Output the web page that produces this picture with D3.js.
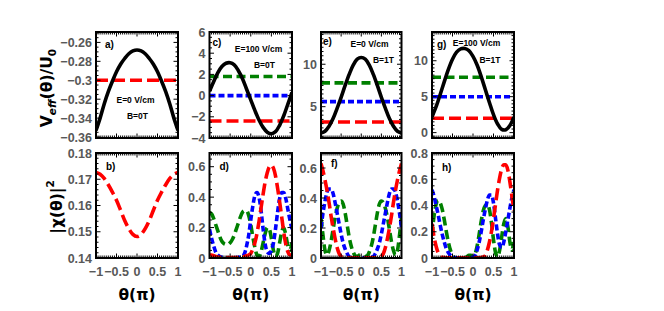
<!DOCTYPE html>
<html lang="en">
<head>
<meta charset="UTF-8">
<title>Effective potential and probability density</title>
<script src="https://cdn.jsdelivr.net/npm/d3@7"></script>
<style>
  body { margin: 0; background: #fff; }
  .tlab { font-family: "Liberation Sans", Arial, sans-serif; font-weight: bold; font-size: 12.5px; fill: #585858; }
  .ann { font-family: "Liberation Sans", Arial, sans-serif; font-weight: bold; font-size: 8.5px; fill: #000; }
  .plab { font-family: "Liberation Sans", Arial, sans-serif; font-weight: bold; font-size: 10px; fill: #000; }
  .axt { font-family: "DejaVu Sans", sans-serif; font-weight: bold; font-size: 15.5px; fill: #000; }
</style>
</head>
<body>
<script>
// theta grids (units of pi)
var th21 = [-1,-0.9,-0.8,-0.7,-0.6,-0.5,-0.4,-0.3,-0.2,-0.1,0,0.1,0.2,0.3,0.4,0.5,0.6,0.7,0.8,0.9,1];
var th41 = [-1,-0.95,-0.9,-0.85,-0.8,-0.75,-0.7,-0.65,-0.6,-0.55,-0.5,-0.45,-0.4,-0.35,-0.3,-0.25,-0.2,-0.15,-0.1,-0.05,
            0,0.05,0.1,0.15,0.2,0.25,0.3,0.35,0.4,0.45,0.5,0.55,0.6,0.65,0.7,0.75,0.8,0.85,0.9,0.95,1];

// top row: V_eff / U0
var aBlack = [-0.353,-0.340,-0.325,-0.312,-0.301,-0.291,-0.283,-0.277,-0.272,-0.269,-0.268,-0.269,-0.272,-0.277,-0.283,-0.291,-0.301,-0.312,-0.325,-0.340,-0.353];
var aLevels = {red: -0.3};
var cBlack = [0.4,1.3,2.15,2.75,3.05,3.1,2.9,2.35,1.6,0.6,-0.4,-1.4,-2.3,-3.0,-3.45,-3.6,-3.4,-2.8,-1.9,-0.8,0.3];
var cLevels = {green: 1.8, blue: 0, red: -2.4};
var eBlack = [1.9,2.1,2.7,3.6,4.8,6.1,7.5,8.8,9.9,10.6,10.8,10.6,9.9,8.8,7.5,6.1,4.8,3.6,2.7,2.1,1.9];
var eLevels = {green: 7.8, blue: 5.6, red: 3.2};
var gBlack = [2.2,3.6,5.3,7.1,8.8,10.2,11.2,11.65,11.7,11.4,10.6,9.4,7.8,6.0,4.2,2.5,1.2,0.45,0.4,1.0,2.2];
var gLevels = {green: 7.7, blue: 5.0, red: 2.0};

// bottom row: |chi|^2
var bRed = [0.1726,0.1719,0.1703,0.1679,0.1651,0.1620,0.1582,0.1543,0.1512,0.1490,0.1482,0.1490,0.1512,0.1543,0.1582,0.1620,0.1651,0.1679,0.1703,0.1719,0.1726];

var dRed = [0.02,0.02,0.015,0.01,0.006,0.004,0.003,0.003,0.003,0.003,0.003,0.003,0.003,0.003,0.003,0.004,0.006,0.01,0.015,0.02,
            0.03,0.06,0.1,0.16,0.24,0.33,0.42,0.5,0.56,0.6,0.61,0.59,0.54,0.46,0.37,0.27,0.17,0.09,0.04,0.02,0.02];
var dBlue = [0.19,0.13,0.08,0.04,0.02,0.01,0.005,0.003,0.002,0.002,0.002,0.002,0.002,0.003,0.004,0.006,0.01,0.03,0.08,0.15,
             0.25,0.34,0.41,0.43,0.4,0.31,0.19,0.09,0.04,0.03,0.05,0.1,0.19,0.3,0.39,0.43,0.43,0.39,0.32,0.25,0.19];
var dGreen = [0.30,0.29,0.26,0.22,0.18,0.14,0.11,0.095,0.09,0.09,0.1,0.12,0.15,0.19,0.23,0.27,0.3,0.31,0.31,0.28,
              0.22,0.14,0.07,0.02,0.01,0.04,0.1,0.16,0.2,0.19,0.13,0.05,0.01,0.03,0.1,0.17,0.2,0.15,0.08,0.05,0.1];

var fRed = [0.63,0.58,0.52,0.45,0.37,0.28,0.2,0.13,0.07,0.03,0.01,0.003,0.002,0.002,0.002,0.002,0.002,0.002,0.002,0.002,
            0.002,0.002,0.002,0.002,0.002,0.002,0.002,0.002,0.002,0.003,0.01,0.03,0.07,0.13,0.2,0.28,0.37,0.45,0.52,0.58,0.63];
var fBlue = [0.2,0.3,0.38,0.44,0.46,0.46,0.43,0.37,0.3,0.23,0.16,0.1,0.06,0.03,0.01,0.004,0.002,0.002,0.002,0.002,
             0.002,0.002,0.002,0.002,0.002,0.004,0.01,0.03,0.06,0.1,0.16,0.23,0.3,0.37,0.43,0.46,0.46,0.44,0.38,0.3,0.2];
var fGreen = [0.27,0.15,0.05,0.02,0.05,0.11,0.19,0.27,0.33,0.37,0.38,0.36,0.3,0.22,0.14,0.08,0.04,0.015,0.01,0.02,
              0.025,0.02,0.01,0.015,0.04,0.08,0.14,0.22,0.3,0.36,0.38,0.37,0.33,0.27,0.19,0.11,0.05,0.02,0.05,0.15,0.27];

var hRed = [0.26,0.16,0.09,0.04,0.015,0.005,0.003,0.002,0.002,0.002,0.002,0.002,0.002,0.002,0.002,0.002,0.002,0.002,0.002,0.002,
            0.002,0.002,0.002,0.002,0.003,0.008,0.02,0.06,0.12,0.2,0.3,0.41,0.52,0.61,0.68,0.71,0.71,0.67,0.58,0.47,0.36];
var hBlue = [0.52,0.47,0.4,0.33,0.25,0.18,0.12,0.07,0.04,0.02,0.006,0.003,0.002,0.002,0.002,0.002,0.002,0.002,0.002,0.003,
             0.006,0.02,0.06,0.12,0.2,0.29,0.37,0.44,0.48,0.48,0.42,0.3,0.18,0.1,0.08,0.12,0.2,0.29,0.38,0.46,0.52];
var hGreen = [0.17,0.32,0.41,0.44,0.42,0.37,0.29,0.2,0.12,0.06,0.02,0.005,0.002,0.002,0.002,0.002,0.002,0.01,0.02,0.02,
              0.01,0.03,0.09,0.18,0.28,0.36,0.4,0.41,0.37,0.27,0.14,0.04,0.01,0.06,0.16,0.26,0.3,0.24,0.12,0.06,0.15];

// tick values and labels
var xTicks = [-1,-0.5,0,0.5,1];
var xTickLabels = ["\u22121","\u22120.5","0","0.5","1"];
var aTicks = [-0.36,-0.34,-0.32,-0.3,-0.28,-0.26];
var aTickLabels = ["\u22120.36","\u22120.34","\u22120.32","\u22120.3","\u22120.28","\u22120.26"];
var cTicks = [-4,-2,0,2,4,6];
var cTickLabels = ["\u22124","\u22122","0","2","4","6"];
var eTicks = [5,10];
var eTickLabels = ["5","10"];
var gTicks = [0,5,10];
var gTickLabels = ["0","5","10"];
var bTicks = [0.14,0.15,0.16,0.17,0.18];
var bTickLabels = ["0.14","0.15","0.16","0.17","0.18"];
var dTicks = [0,0.2,0.4,0.6];
var dTickLabels = ["0","0.2","0.4","0.6"];
var hTicks = [0,0.2,0.4,0.6,0.8];
var hTickLabels = ["0","0.2","0.4","0.6","0.8"];

var w = 664, h = 311;
var colors = {red: "#ff0000", blue: "#0000ff", green: "#008000", black: "#000"};
var dashes = {red: "12,5", blue: "6,3", green: "9,4.5", black: null};

var cols = [[96,178],[209.5,292],[321,401.5],[432,514]];
var rows = [[32,138],[153,258]];

var panels = [
  {lab:"a)", c:0, r:0, dom:[-0.361,-0.249], ticks:aTicks, tl:aTickLabels, minor:0.005,
   curves:[{x:th21, y:aBlack, k:"black"}], levels:aLevels, labPos:[9,16],
   notes:[["E=0 V/cm",39.5,71],["B=0T",41.5,87]]},
  {lab:"c)", c:1, r:0, dom:[-4,6], ticks:cTicks, tl:cTickLabels, minor:0.5,
   curves:[{x:th21, y:cBlack, k:"black"}], levels:cLevels, labPos:[3,14],
   notes:[["E=100 V/cm",49,20],["B=0T",55,36]]},
  {lab:"e)", c:2, r:0, dom:[1.31,13.8], ticks:eTicks, tl:eTickLabels, minor:0.5,
   curves:[{x:th21, y:eBlack, k:"black"}], levels:eLevels, labPos:[2,13],
   notes:[["E=0 V/cm",48.5,15],["B=1T",62.5,31]]},
  {lab:"g)", c:3, r:0, dom:[-0.75,14], ticks:gTicks, tl:gTickLabels, minor:0.5,
   curves:[{x:th21, y:gBlack, k:"black"}], levels:gLevels, labPos:[5,16],
   notes:[["E=100 V/cm",44.5,14],["B=1T",58,31]]},
  {lab:"b)", c:0, r:1, dom:[0.14,0.18], ticks:bTicks, tl:bTickLabels, minor:0.002,
   curves:[{x:th21, y:bRed, k:"red"}], levels:{}, labPos:[10,17], notes:[]},
  {lab:"d)", c:1, r:1, dom:[0,0.69], ticks:dTicks, tl:dTickLabels, minor:0.05,
   curves:[{x:th41, y:dGreen, k:"green"},{x:th41, y:dBlue, k:"blue"},{x:th41, y:dRed, k:"red"}], levels:{}, labPos:[10,17], notes:[]},
  {lab:"f)", c:2, r:1, dom:[0,0.70], ticks:dTicks, tl:dTickLabels, minor:0.05,
   curves:[{x:th41, y:fGreen, k:"green"},{x:th41, y:fBlue, k:"blue"},{x:th41, y:fRed, k:"red"}], levels:{}, labPos:[10,14], notes:[]},
  {lab:"h)", c:3, r:1, dom:[0,0.80], ticks:hTicks, tl:hTickLabels, minor:0.05,
   curves:[{x:th41, y:hGreen, k:"green"},{x:th41, y:hBlue, k:"blue"},{x:th41, y:hRed, k:"red"}], levels:{}, labPos:[10,18], notes:[]}
];

var svg = d3.select("body").append("svg")
  .attr("width", w).attr("height", h);

panels.forEach(function(p, i) {
  var x0 = cols[p.c][0], x1 = cols[p.c][1];
  var y0 = rows[p.r][0], y1 = rows[p.r][1];
  var xScale = d3.scaleLinear().domain([-1,1]).range([x0,x1]);
  var yScale = d3.scaleLinear().domain(p.dom).range([y1,y0]);
  var g = svg.append("g");

  g.append("clipPath").attr("id","clip"+i).append("rect")
    .attr("x",x0).attr("y",y0).attr("width",x1-x0).attr("height",y1-y0);
  var plot = g.append("g").attr("clip-path","url(#clip"+i+")");

  // horizontal levels
  ["green","blue","red"].forEach(function(k) {
    if (p.levels[k] === undefined) return;
    plot.append("line")
      .attr("x1",x0).attr("x2",x1)
      .attr("y1",yScale(p.levels[k])).attr("y2",yScale(p.levels[k]))
      .attr("stroke",colors[k]).attr("stroke-width",3.6)
      .attr("stroke-dasharray",dashes[k]);
  });

  var line = d3.line()
    .x(function(d){ return xScale(d[0]); })
    .y(function(d){ return yScale(d[1]); })
    .curve(p.r === 0 ? d3.curveCatmullRom.alpha(0.5) : d3.curveMonotoneX);

  p.curves.forEach(function(cv) {
    plot.append("path")
      .datum(cv.x.map(function(t,j){ return [t, cv.y[j]]; }))
      .attr("d", line)
      .attr("fill","none")
      .attr("stroke",colors[cv.k]).attr("stroke-width",3.6)
      .attr("stroke-dasharray",dashes[cv.k]);
  });

  // frame ticks pointing inward on all sides
  var xMinor = d3.range(-1, 1.0001, 0.05);
  var yMinor = d3.range(Math.ceil(p.dom[0]/p.minor)*p.minor, p.dom[1], p.minor);
  var tk = g.append("g").attr("stroke","#000").attr("stroke-width",1);
  xMinor.forEach(function(t) {
    var major = xTicks.some(function(m){ return Math.abs(m-t) < 1e-6; });
    var len = major ? 4.5 : 2.5;
    var xx = xScale(t);
    tk.append("line").attr("x1",xx).attr("x2",xx).attr("y1",y1).attr("y2",y1-len);
    tk.append("line").attr("x1",xx).attr("x2",xx).attr("y1",y0).attr("y2",y0+len);
  });
  yMinor.forEach(function(v) {
    var major = p.ticks.some(function(m){ return Math.abs(m-v) < p.minor/10; });
    var len = major ? 4.5 : 2.5;
    var yy = yScale(v);
    tk.append("line").attr("x1",x0).attr("x2",x0+len).attr("y1",yy).attr("y2",yy);
    tk.append("line").attr("x1",x1).attr("x2",x1-len).attr("y1",yy).attr("y2",yy);
  });

  g.append("rect")
    .attr("x",x0).attr("y",y0).attr("width",x1-x0).attr("height",y1-y0)
    .attr("fill","none").attr("stroke","#000").attr("stroke-width",2);

  // y tick labels
  p.ticks.forEach(function(v, j) {
    g.append("text").attr("class","tlab")
      .attr("x", x0-4).attr("y", yScale(v)+4.5)
      .attr("text-anchor","end")
      .text(p.tl[j]);
  });

  // x tick labels and title on the bottom row
  if (p.r === 1) {
    xTicks.forEach(function(t, j) {
      g.append("text").attr("class","tlab")
        .attr("x", xScale(t)).attr("y", y1+18)
        .attr("text-anchor","middle")
        .text(xTickLabels[j]);
    });
    g.append("text").attr("class","axt")
      .attr("x", (x0+x1)/2).attr("y", 300)
      .attr("text-anchor","middle")
      .text("\u03b8(\u03c0)");
  }

  g.append("text").attr("class","plab")
    .attr("x", x0+p.labPos[0]).attr("y", y0+p.labPos[1])
    .text(p.lab);

  p.notes.forEach(function(n) {
    g.append("text").attr("class","ann")
      .attr("x", x0+n[1]).attr("y", y0+n[2])
      .attr("text-anchor","middle")
      .text(n[0]);
  });
});

// axis titles
var t1 = svg.append("text").attr("class","axt")
  .attr("transform","translate(52,88) rotate(-90)")
  .attr("text-anchor","middle");
t1.append("tspan").text("V");
t1.append("tspan").attr("font-style","italic").attr("font-size","10.5px").attr("dy",4).text("eff");
t1.append("tspan").attr("dy",-4).text("(\u03b8)/U");
t1.append("tspan").attr("font-size","10.5px").attr("dy",4).text("0");

var t2 = svg.append("text").attr("class","axt")
  .attr("transform","translate(62,207) rotate(-90)")
  .attr("text-anchor","middle");
t2.append("tspan").text("|\u03c7(\u03b8)|");
t2.append("tspan").attr("font-size","10.5px").attr("dy",-8).text("2");
</script>
</body>
</html>
